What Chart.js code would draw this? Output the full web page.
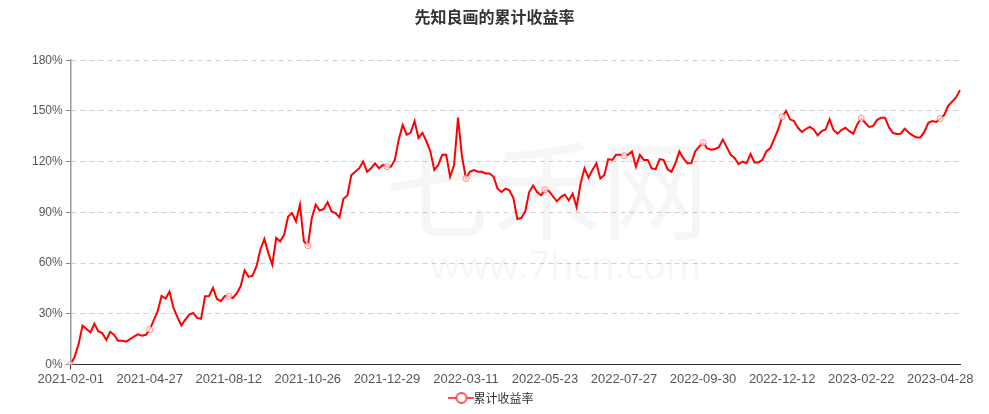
<!DOCTYPE html>
<html>
<head>
<meta charset="utf-8">
<script src="https://cdn.jsdelivr.net/npm/chart.js@4"></script>
<style>
  html, body { margin: 0; padding: 0; background: #fff; }
</style>
</head>
<body>
<canvas id="myChart" width="989" height="414"></canvas>
<script>
// axis labels (one every STEP points)
const tickDates = ["2021-02-01", "2021-04-27", "2021-08-12", "2021-10-26", "2021-12-29", "2022-03-11",
  "2022-05-23", "2022-07-27", "2022-09-30", "2022-12-12", "2023-02-22", "2023-04-28"];
const STEP = 20;

// 累计收益率 (%)
const returns = [
  0, 4.5, 12, 23, 21, 19, 24, 19.5, 18.5, 14.5, 19.3, 17.5, 14, 14, 13.5, 15, 16.5, 17.8, 17, 17.5,
  20.6, 26, 31.5, 40.5, 39, 43, 33.5, 28, 23, 26.5, 29.5, 30.5, 27.5, 27, 40.3, 40.5, 45.3, 38.7, 37.4, 40.5,
  40.3, 39.3, 42, 46.2, 55.7, 51.8, 52.5, 58, 68, 74.2, 66, 59, 74.8, 72.8, 76.7, 87.5, 89.5, 84.6, 94.5, 72.8,
  70.2, 86.6, 94.5, 91, 92, 96, 90.5, 89.5, 87, 98, 100, 112, 114, 116, 120, 114, 116, 119, 116, 118,
  117, 117, 121, 133, 141.7, 136, 137, 144, 134, 137, 132, 126, 115, 118, 124, 124, 111, 118, 146, 123,
  110, 114, 115, 114, 114, 113, 113, 111, 104, 102, 104, 103, 98.4, 86, 86.6, 90.5, 102, 105.8, 102, 100,
  103.3, 102.5, 99.5, 96.5, 99, 100.5, 97, 101, 93, 107, 116, 110.5, 115, 119, 110, 112, 121.5, 121, 124, 124,
  123.5, 124, 126, 117, 124, 121, 121, 116, 115.5, 121.5, 121, 115.5, 114, 119, 126, 122, 119, 119, 126, 128.8,
  131.2, 128, 127, 127.5, 128.5, 133, 128.5, 124, 122, 118.5, 120, 119, 124.5, 119.5, 119.5, 121, 126, 128, 133.5, 139,
  146.6, 150, 145, 144, 140, 137.5, 139.3, 140.5, 139, 135.5, 138, 139, 145, 138.7, 136.5, 138.7, 140, 138, 136.5, 142,
  145.7, 143, 140.5, 141, 144.6, 146, 146, 140.5, 137, 136.3, 136.5, 139.5, 137.2, 135.5, 134.3, 134.3, 137.7, 143, 144, 143.5,
  145.5, 147.5, 153, 155.5, 158, 162.3
];

const yTicks = [0, 30, 60, 90, 120, 150, 180];

const labels = returns.map((v, i) => (i % STEP === 0 ? tickDates[i / STEP] : ""));

// legend icon: line with hollow circle
const legendIcon = document.createElement("canvas");
legendIcon.width = 26;
legendIcon.height = 14;
(function () {
  const c = legendIcon.getContext("2d");
  c.strokeStyle = "#ff4d4d";
  c.lineWidth = 2;
  c.beginPath();
  c.moveTo(0, 7);
  c.lineTo(26, 7);
  c.stroke();
  c.fillStyle = "#fff";
  c.beginPath();
  c.arc(13, 7, 5, 0, Math.PI * 2);
  c.fill();
  c.stroke();
})();

const watermark = {
  id: "watermark",
  beforeDatasetsDraw(chart) {
    const c = chart.ctx;
    c.save();
    c.fillStyle = "rgba(0,0,0,0.035)";
    c.textAlign = "left";
    c.textBaseline = "alphabetic";
    c.font = "108px 'Noto Sans CJK SC'";
    c.fillText("七禾网", 385, 231);
    c.font = "38px 'Open Sans'";
    c.fillText("www.7hcn.com", 430, 279);
    c.restore();
  }
};

const ctx = document.getElementById("myChart").getContext("2d");
const myChart = new Chart(ctx, {
  type: "line",
  data: {
    labels: labels,
    datasets: [
      {
        label: "累计收益率",
        data: returns,
        borderColor: "#ff0000",
        borderWidth: 2,
        tension: 0,
        fill: false,
        pointRadius: (c) => (c.dataIndex % STEP === 0 ? 3 : 0),
        pointHoverRadius: 3,
        pointBackgroundColor: "rgba(255,255,255,0.7)",
        pointBorderColor: "rgba(255,90,90,0.7)",
        pointBorderWidth: 1,
      },
    ],
  },
  options: {
    responsive: false,
    animation: false,
    layout: { padding: { left: 29, right: 29, top: 0, bottom: 0 } },
    plugins: {
      title: {
        display: true,
        text: "先知良画的累计收益率",
        color: "#333",
        font: { size: 16, weight: "bold", family: "'Noto Sans CJK SC'" },
        padding: { top: 7, bottom: 34 },
      },
      legend: {
        position: "bottom",
        labels: {
          color: "#333",
          font: { size: 12, family: "'Noto Sans CJK SC'" },
          usePointStyle: true,
          padding: 3,
          generateLabels: (chart) =>
            Chart.defaults.plugins.legend.labels.generateLabels(chart).map((l) => {
              l.pointStyle = legendIcon;
              return l;
            }),
        },
      },
      tooltip: { enabled: false },
    },
    scales: {
      x: {
        type: "category",
        offset: false,
        border: { display: true, color: "#333", width: 1 },
        grid: {
          drawOnChartArea: false,
          drawTicks: true,
          tickLength: 5,
          tickColor: (c) => (c.index % STEP === 0 ? "#333" : "rgba(0,0,0,0)"),
        },
        ticks: {
          autoSkip: false,
          maxRotation: 0,
          padding: 2,
          color: "#555",
          font: { size: 13, family: "'Liberation Sans'" },
          callback: function (v, i) {
            return i % STEP === 0 ? this.getLabelForValue(v) : null;
          },
        },
      },
      y: {
        min: yTicks[0],
        max: yTicks[yTicks.length - 1],
        afterBuildTicks: (axis) => {
          axis.ticks = yTicks.map((v) => ({ value: v }));
        },
        border: { display: true, color: "#999", width: 1.5, dash: [5, 4] },
        grid: {
          color: "#d0d0d0",
          tickLength: 5,
          tickColor: "#888",
          tickBorderDash: [],
        },
        ticks: {
          padding: 3,
          color: "#555",
          font: { size: 12, family: "'Liberation Sans'" },
          callback: (v) => v + "%",
        },
      },
    },
  },
  plugins: [watermark],
});
</script>
</body>
</html>
